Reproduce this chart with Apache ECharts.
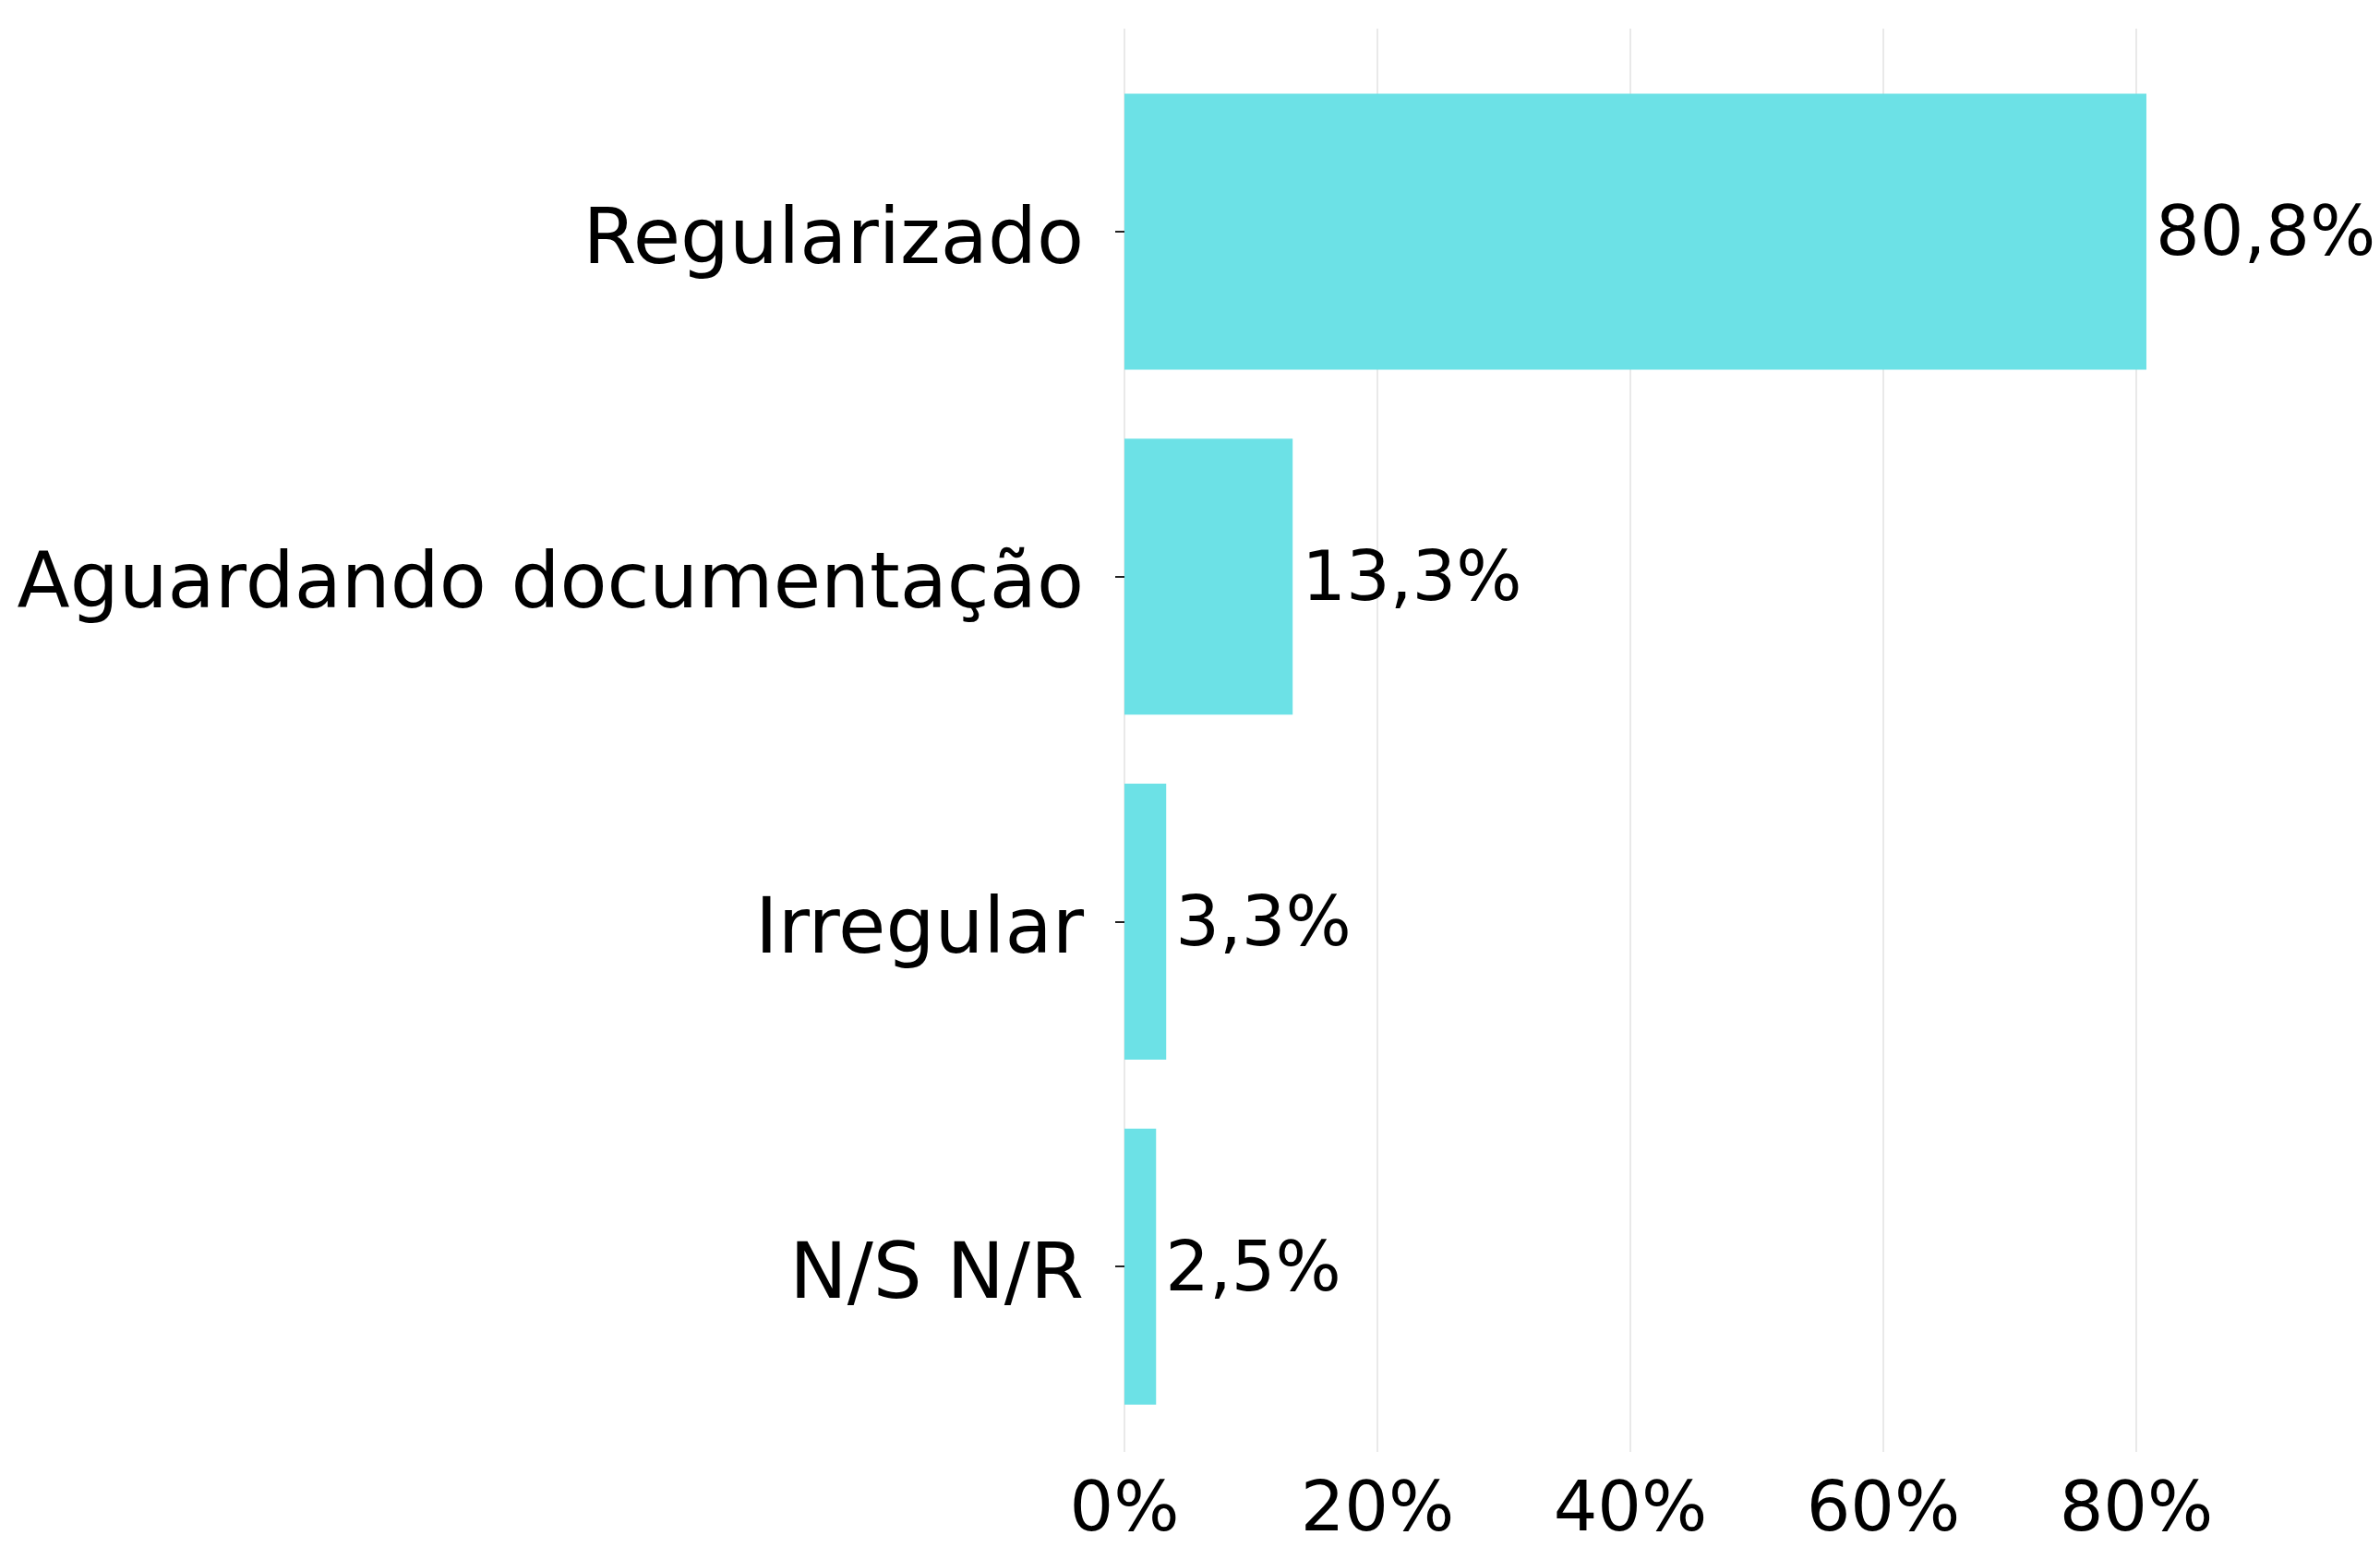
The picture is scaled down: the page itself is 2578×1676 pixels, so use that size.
<!DOCTYPE html>
<html>
<head>
<meta charset="utf-8">
<title>Situação</title>
<script src="https://cdn.jsdelivr.net/npm/echarts@6/dist/echarts.min.js"></script>
<style>
  html, body { margin: 0; padding: 0; background: #fff; }
  #chart { width: 2578px; height: 1676px; }
</style>
</head>
<body>
<div id="chart"></div>
<script>
const categories = ['Regularizado', 'Aguardando documentação', 'Irregular', 'N/S N/R']
const values = [80.8, 13.3, 3.3, 2.5]
const tickValues = [0, 20, 40, 60, 80]

const barColor = '#6ce1e6'
const fontFamily = 'DejaVu Sans'
const catFontSize = 83.5
const numFontSize = 75

// x extent: bars start at 0, 5% margin after the longest bar
const xMax = Math.max(...values) * 1.05
const gridRight = 2578 - 1218 - xMax * 13.7

const chart = echarts.init(document.getElementById('chart'))

const fmt = v => String(v).replace('.', ',') + '%'

chart.setOption({
  backgroundColor: '#fff',
  animation: false,
  grid: [
    // outer grid: gridlines + x tick labels
    { left: 1218, right: gridRight, top: 31, bottom: 82 },
    // inner grid: bars + category labels
    { left: 1218, right: gridRight, top: 64, bottom: 117 }
  ],
  xAxis: [
    {
      gridIndex: 0,
      type: 'value',
      min: 0,
      max: xMax,
      interval: 20,
      axisLine: { show: false },
      axisTick: { show: false },
      axisLabel: {
        showMaxLabel: false,
        margin: 28,
        color: '#000',
        fontFamily: fontFamily,
        fontSize: numFontSize,
        formatter: v => tickValues.indexOf(v) >= 0 ? v + '%' : ''
      },
      splitLine: {
        show: true,
        showMaxLine: false,
        lineStyle: { color: '#e9e9e9', width: 2 }
      }
    },
    {
      gridIndex: 1,
      type: 'value',
      min: 0,
      max: xMax,
      show: false
    }
  ],
  yAxis: [
    {
      gridIndex: 0,
      type: 'category',
      data: categories,
      show: false
    },
    {
      gridIndex: 1,
      type: 'category',
      data: categories,
      inverse: true,
      axisLine: { show: false },
      axisTick: {
        show: true,
        alignWithLabel: true,
        length: 10,
        lineStyle: { color: '#222', width: 2 }
      },
      axisLabel: {
        margin: 44,
        // nudge labels down a bit so the caps sit centred on the tick
        verticalAlign: 'top',
        lineHeight: 24,
        color: '#000',
        fontFamily: fontFamily,
        fontSize: catFontSize
      },
      splitLine: { show: false }
    }
  ],
  series: [{
    type: 'bar',
    xAxisIndex: 1,
    yAxisIndex: 1,
    data: values,
    barWidth: '80%',
    itemStyle: { color: barColor },
    label: {
      show: true,
      position: 'right',
      distance: 10,
      offset: [0, 6],
      color: '#000',
      fontFamily: fontFamily,
      fontSize: numFontSize,
      formatter: p => fmt(p.value)
    }
  }]
})
</script>
</body>
</html>
